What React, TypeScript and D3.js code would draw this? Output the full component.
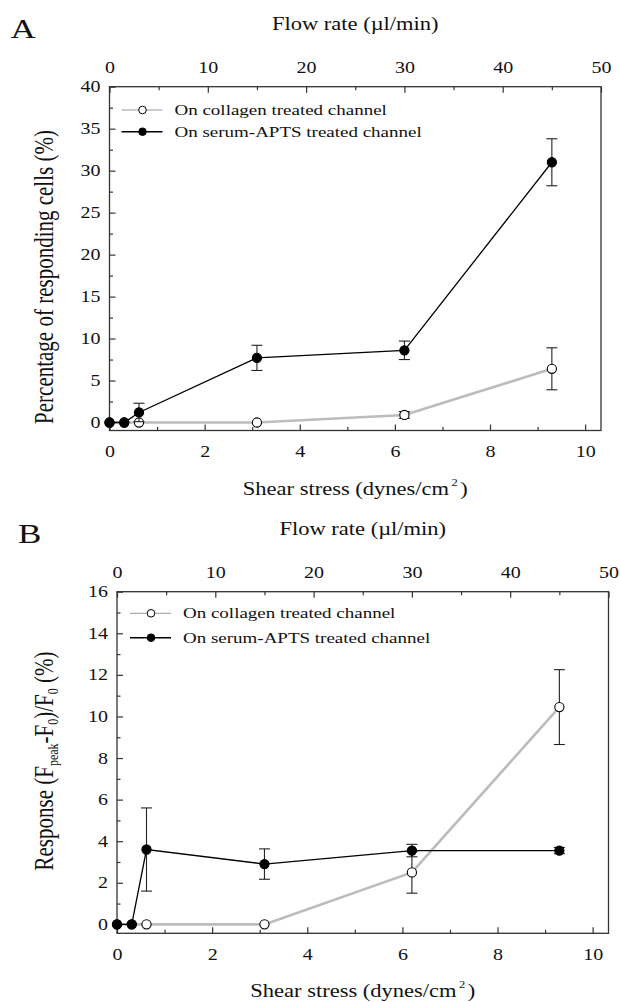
import React, { useEffect, useRef } from "react";
import * as d3 from "d3";

// shear stress (dynes/cm2) of each measured point; flow rate = shear * 50 / 10.333
const shearStress = [0, 0.31, 0.62, 3.1, 6.2, 9.3];
const shearTicks = [0, 2, 4, 6, 8, 10];
const shearMinor = [1, 3, 5, 7, 9];
const flowTicks = [0, 10, 20, 30, 40, 50];
const flowMinor = [5, 15, 25, 35, 45];

// panel A - percentage of responding cells
const pctCollagen = [0, 0, 0, 0, 0.9, 6.4];
const pctCollagenErr = [0, 0, 0, 0, 0.4, 2.5];
const pctSerum = [0, 0, 1.2, 7.7, 8.6, 31.0];
const pctSerumErr = [0, 0, 1.1, 1.5, 1.1, 2.8];
const pctTicks = [0, 5, 10, 15, 20, 25, 30, 35, 40];
const pctMinor = [2.5, 7.5, 12.5, 17.5, 22.5, 27.5, 32.5, 37.5];

// panel B - response (Fpeak-F0)/F0
const respCollagen = [0, 0, 0, 0, 2.5, 10.45];
const respCollagenErr = [0, 0, 0, 0, 1.0, 1.8];
const respSerum = [0, 0, 3.6, 2.9, 3.55, 3.55];
const respSerumErr = [0, 0, 2.0, 0.73, 0.3, 0.15];
const respTicks = [0, 2, 4, 6, 8, 10, 12, 14, 16];
const respMinor = [1, 3, 5, 7, 9, 11, 13, 15];

const legendLabels = ["On collagen treated channel", "On serum-APTS treated channel"];

const FONT = "'Liberation Serif', 'Times New Roman', serif";
const STRETCH = 1.25; // the original figure is wider than tall
const GREY = "#bcbcbc";
const FRAME = "#333";

function drawPanel(svg: any, p: any) {
  const x = d3.scaleLinear().domain([0, 10.333]).range([p.left, p.right]);
  const xFlow = d3.scaleLinear().domain([0, 50]).range([p.left, p.right]);
  const y = d3.scaleLinear().domain(p.yDomain).range([p.bottom, p.top]);

  const g = svg.append("g").attr("font-family", FONT).attr("fill", "#111");

  // letter + titles
  g.append("text")
    .attr("transform", `translate(${p.left - 99},${p.top - 49}) scale(${STRETCH},1)`)
    .attr("font-size", 28)
    .text(p.letter);

  g.append("text")
    .attr("transform", `translate(${(p.left + p.right) / 2},${p.top - 57}) scale(${STRETCH},1)`)
    .attr("text-anchor", "middle")
    .attr("font-size", 18)
    .text("Flow rate (\u00b5l/min)");

  const xt = g.append("text")
    .attr("transform", `translate(${(p.left + p.right) / 2},${p.bottom + 64}) scale(${STRETCH},1)`)
    .attr("text-anchor", "middle")
    .attr("font-size", 18);
  xt.append("tspan").text("Shear stress (dynes/cm");
  xt.append("tspan").attr("font-size", 10).attr("dy", -9).attr("dx", 2).text("2");
  xt.append("tspan").attr("dy", 9).attr("dx", 2).text(")");

  const yt = g.append("text")
    .attr("transform", `translate(53,${p.yTitleY}) scale(${STRETCH},1) rotate(-90)`)
    .attr("text-anchor", "middle")
    .attr("font-size", 21);
  p.yTitle(yt);

  // axes
  const styleAxis = (a: any) => {
    a.select(".domain").remove();
    a.selectAll("line").attr("stroke", FRAME).attr("stroke-width", 1.2);
    a.selectAll("text").attr("font-family", FONT).attr("font-size", 16).attr("fill", "#111");
  };

  const bottom = g.append("g").attr("transform", `translate(0,${p.bottom})`)
    .call(d3.axisBottom(x).tickValues(shearTicks).tickSize(-6).tickPadding(15).tickFormat(d3.format("d")));
  styleAxis(bottom);
  bottom.selectAll("text").attr("transform", `scale(${STRETCH},1)`);
  const bottomMinor = g.append("g").attr("transform", `translate(0,${p.bottom})`)
    .call(d3.axisBottom(x).tickValues(shearMinor).tickSize(-3.5).tickFormat(() => ""));
  styleAxis(bottomMinor);

  const top = g.append("g").attr("transform", `translate(0,${p.top})`)
    .call(d3.axisTop(xFlow).tickValues(flowTicks).tickSize(-6).tickPadding(14).tickFormat(d3.format("d")));
  styleAxis(top);
  top.selectAll("text").attr("transform", `scale(${STRETCH},1)`);
  const topMinor = g.append("g").attr("transform", `translate(0,${p.top})`)
    .call(d3.axisTop(xFlow).tickValues(flowMinor).tickSize(-3.5).tickFormat(() => ""));
  styleAxis(topMinor);

  const left = g.append("g").attr("transform", `translate(${p.left},0)`)
    .call(d3.axisLeft(y).tickValues(p.yTicks).tickSize(-6).tickPadding(9).tickFormat(d3.format("d")));
  styleAxis(left);
  left.selectAll("text").attr("x", -9 / STRETCH).attr("transform", `scale(${STRETCH},1)`);
  const leftMinor = g.append("g").attr("transform", `translate(${p.left},0)`)
    .call(d3.axisLeft(y).tickValues(p.yMinor).tickSize(-3.5).tickFormat(() => ""));
  styleAxis(leftMinor);

  g.append("rect")
    .attr("x", p.left).attr("y", p.top)
    .attr("width", p.right - p.left).attr("height", p.bottom - p.top)
    .attr("fill", "none").attr("stroke", FRAME).attr("stroke-width", 1.3);

  // series
  const line = d3.line<number>().x((d, i) => x(shearStress[i])).y(d => y(d));

  const drawSeries = (vals: number[], errs: number[], color: string, width: number, filled: boolean) => {
    g.append("path").datum(vals).attr("d", line)
      .attr("fill", "none").attr("stroke", color).attr("stroke-width", width);

    vals.forEach((v, i) => {
      if (!errs[i]) return;
      const cx = x(shearStress[i]);
      const y1 = y(v + errs[i]), y2 = y(v - errs[i]);
      g.append("line").attr("x1", cx).attr("x2", cx).attr("y1", y1).attr("y2", y2)
        .attr("stroke", "#222").attr("stroke-width", 1.1);
      [y1, y2].forEach(yy => {
        g.append("line").attr("x1", cx - 5.5).attr("x2", cx + 5.5).attr("y1", yy).attr("y2", yy)
          .attr("stroke", "#222").attr("stroke-width", 1.1);
      });
    });

    g.selectAll(null).data(vals).enter().append("circle")
      .attr("cx", (d: number, i: number) => x(shearStress[i]))
      .attr("cy", (d: number) => y(d))
      .attr("r", 4.6)
      .attr("fill", filled ? "#000" : "#fff")
      .attr("stroke", "#000").attr("stroke-width", 1.1);
  };

  drawSeries(p.collagen, p.collagenErr, GREY, 2.6, false);
  drawSeries(p.serum, p.serumErr, "#000", 1.3, true);

  // legend
  legendLabels.forEach((lab, i) => {
    const ly = p.legendY[i];
    g.append("line").attr("x1", p.legendX).attr("x2", p.legendX + 41).attr("y1", ly).attr("y2", ly)
      .attr("stroke", i === 0 ? "#999" : "#000").attr("stroke-width", i === 0 ? 1 : 1.5);
    g.append("circle").attr("cx", p.legendX + 21).attr("cy", ly).attr("r", 3.8)
      .attr("fill", i === 0 ? "#fff" : "#000").attr("stroke", "#000").attr("stroke-width", 1);
    g.append("text")
      .attr("transform", `translate(${p.legendX + 53},${ly + 5}) scale(${STRETCH},1)`)
      .attr("font-size", 15.2)
      .text(lab);
  });
}

export default function App() {
  const ref = useRef<SVGSVGElement>(null);

  useEffect(() => {
    const svg = d3.select(ref.current);
    svg.selectAll("*").remove();

    drawPanel(svg, {
      letter: "A",
      left: 109.5, right: 601, top: 86.7, bottom: 430.5,
      yDomain: [-0.95, 40], yTicks: pctTicks, yMinor: pctMinor,
      collagen: pctCollagen, collagenErr: pctCollagenErr,
      serum: pctSerum, serumErr: pctSerumErr,
      yTitleY: 277,
      yTitle: (t: any) => t.text("Percentage of responding cells (%)"),
      legendX: 121.5, legendY: [110, 131.7],
    });

    drawPanel(svg, {
      letter: "B",
      left: 117, right: 608.5, top: 591.7, bottom: 933.3,
      yDomain: [-0.43, 16], yTicks: respTicks, yMinor: respMinor,
      collagen: respCollagen, collagenErr: respCollagenErr,
      serum: respSerum, serumErr: respSerumErr,
      yTitleY: 761,
      yTitle: (t: any) => {
        t.append("tspan").text("Response (F");
        t.append("tspan").attr("font-size", 12).attr("dy", 4).text("peak");
        t.append("tspan").attr("dy", -4).text("-F");
        t.append("tspan").attr("font-size", 12).attr("dy", 4).text("0");
        t.append("tspan").attr("dy", -4).text(")/F");
        t.append("tspan").attr("font-size", 12).attr("dy", 4).text("0");
        t.append("tspan").attr("dy", -4).text(" (%)");
      },
      legendX: 130, legendY: [613.3, 637.7],
    });
  }, []);

  return (
    <div style={{ position: "absolute", left: 0, top: 0, background: "#fff" }}>
      <svg ref={ref} width={620} height={1002} style={{ display: "block" }} />
    </div>
  );
}
